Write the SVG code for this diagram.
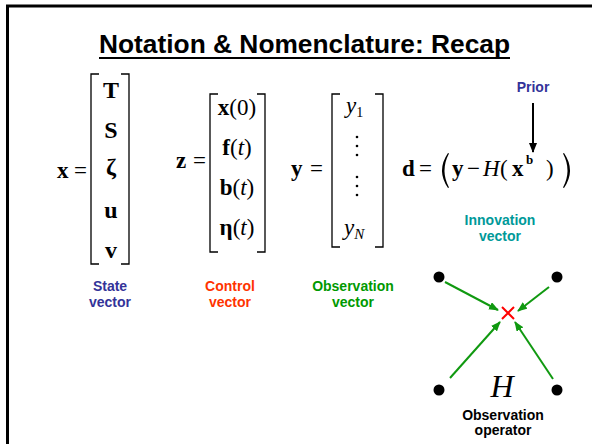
<svg xmlns="http://www.w3.org/2000/svg" width="592" height="444" viewBox="0 0 592 444">
<style>
.m{font-family:"Liberation Serif","Times New Roman",serif;font-size:23px;fill:#000}
.b{font-weight:bold}
.i{font-style:italic}
.lab{font-family:"Liberation Sans",Arial,sans-serif;font-weight:bold;font-size:14px;text-anchor:middle}
.br{fill:none;stroke:#000;stroke-width:1.3}
.g{stroke:#109910;stroke-width:2;fill:none;marker-end:url(#ga)}
</style>
<defs>
<marker id="ga" markerUnits="userSpaceOnUse" markerWidth="10" markerHeight="8" refX="9" refY="4" orient="auto">
<path d="M0,0 L10,4 L0,8 z" fill="#109910"/>
</marker>
<marker id="ka" markerUnits="userSpaceOnUse" markerWidth="10" markerHeight="10" refX="9" refY="4" orient="auto">
<path d="M0,0 L10,4 L0,8 z" fill="#000"/>
</marker>
</defs>
<rect width="592" height="444" fill="#fff"/>
<path d="M7.5,444 V6 H592" fill="none" stroke="#000" stroke-width="3"/>
<g id="title">
<text x="99" y="53" textLength="411" lengthAdjust="spacingAndGlyphs" font-family="Liberation Sans,Arial,sans-serif" font-weight="bold" font-size="25">Notation &amp; Nomenclature: Recap</text>
<line x1="99" y1="58" x2="510" y2="58" stroke="#000" stroke-width="2"/>
</g>
<g id="state-vector">
<text class="m b" x="57" y="178">x</text>
<text class="m" x="74" y="178">=</text>
<path class="br" d="M99,74 H91 V264 H99 M121,74 H129 V264 H121"/>
<g class="m b" text-anchor="middle" style="font-size:24px">
<text x="111" y="98">T</text>
<text x="111" y="138">S</text>
<text x="111" y="175">ζ</text>
<text x="111" y="218">u</text>
<text x="111" y="258">v</text>
</g>
<text class="lab" x="110" y="291" fill="#333399">State</text>
<text class="lab" x="110" y="307" fill="#333399">vector</text>
</g>
<g id="control-vector">
<text class="m b" x="176" y="168">z</text>
<text class="m" x="193" y="168">=</text>
<path class="br" d="M218,94 H210 V252 H218 M257,94 H265 V252 H257"/>
<g class="m" text-anchor="middle">
<text x="237" y="115"><tspan class="b">x</tspan>(0)</text>
<text x="237" y="155"><tspan class="b">f</tspan>(<tspan class="i">t</tspan>)</text>
<text x="237" y="195"><tspan class="b">b</tspan>(<tspan class="i">t</tspan>)</text>
<text x="237" y="235"><tspan class="b">η</tspan>(<tspan class="i">t</tspan>)</text>
</g>
<text class="lab" x="230" y="291" fill="#ff3300">Control</text>
<text class="lab" x="230" y="307" fill="#ff3300">vector</text>
</g>
<g id="observation-vector">
<text class="m b" x="291" y="176">y</text>
<text class="m" x="310" y="176">=</text>
<path class="br" d="M340,94 H332 V247 H340 M375,94 H383 V247 H375"/>
<text class="m i" x="346" y="113">y<tspan style="font-size:14px;font-style:normal" dy="4">1</tspan></text>
<g fill="#000">
<circle cx="357" cy="137" r="1.3"/><circle cx="357" cy="146" r="1.3"/><circle cx="357" cy="155" r="1.3"/>
<circle cx="357" cy="177" r="1.3"/><circle cx="357" cy="186" r="1.3"/><circle cx="357" cy="195" r="1.3"/>
</g>
<text class="m i" x="344" y="235">y<tspan style="font-size:15px" dy="4">N</tspan></text>
<text class="lab" x="353" y="291" fill="#009900">Observation</text>
<text class="lab" x="353" y="307" fill="#009900">vector</text>
</g>
<g id="innovation">
<text class="m b" x="402" y="176">d</text>
<text class="m" x="419" y="176">=</text>
<path d="M448,153 Q436,170.5 448,188 L449,187.5 Q440,170.5 449,153.5 Z" fill="#000"/>
<text class="m b" x="452" y="176">y</text>
<text class="m" x="467" y="176">−</text>
<text class="m i" x="483" y="176">H</text>
<text class="m" x="500" y="176">(</text>
<text class="m b" x="512" y="176">x</text>
<text class="m b" x="526" y="164" style="font-size:13px">b</text>
<text class="m" x="546" y="176">)</text>
<path d="M564,153 Q576,170.5 564,188 L563,187.5 Q572,170.5 563,153.5 Z" fill="#000"/>
<text class="lab" x="500" y="225" fill="#009999">Innovation</text>
<text class="lab" x="500" y="241" fill="#009999">vector</text>
</g>
<g id="prior">
<text class="lab" x="533" y="92" fill="#333399">Prior</text>
</g>
<g id="observation-operator">
<circle cx="439" cy="277" r="5.5" fill="#000"/>
<circle cx="557" cy="277" r="5.5" fill="#000"/>
<circle cx="439" cy="390" r="5.5" fill="#000"/>
<circle cx="557" cy="390" r="5.5" fill="#000"/>
<path d="M502,307 L514,319 M514,307 L502,319" stroke="#ff0000" stroke-width="2"/>
<text x="502" y="397" text-anchor="middle" font-family="Liberation Serif,serif" font-style="italic" font-size="32">H</text>
<text class="lab" x="503" y="420" fill="#000">Observation</text>
<text class="lab" x="503" y="435" fill="#000">operator</text>
</g>
<g id="connectors">
<line x1="533" y1="103" x2="533" y2="152" stroke="#000" stroke-width="2" marker-end="url(#ka)"/>
<line class="g" x1="445" y1="282" x2="498" y2="310"/>
<line class="g" x1="549" y1="287" x2="518" y2="311"/>
<line class="g" x1="450" y1="378" x2="500" y2="322"/>
<line class="g" x1="553" y1="379" x2="515" y2="322"/>
</g>
</svg>
